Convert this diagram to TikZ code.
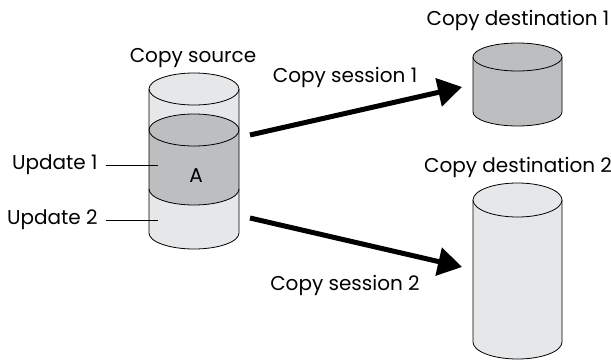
\documentclass[tikz,border=0pt]{standalone}
\usepackage{fontspec}
\setmainfont{Poppins}
\usetikzlibrary{arrows.meta}
\definecolor{datagray}{HTML}{BDBEC0}
\definecolor{shellgray}{HTML}{E6E7E8}
\begin{document}
\begin{tikzpicture}[x=1pt,y=1pt,line width=0.8pt,
  every node/.style={font=\fontsize{20}{24}\selectfont,inner sep=0pt},
  session/.style={line width=5pt,-{Triangle[length=24pt,width=28pt]}},
  leader/.style={line width=0.9pt,shorten <=8pt}]
\useasboundingbox (0,0) rectangle (611,360);
% source volume: shell, data band, outlines
\fill[shellgray] (149,271) -- (149,127) arc[start angle=180,end angle=360,x radius=45,y radius=16] -- (239,271) -- cycle;
\fill[datagray] (149,230) -- (149,171) arc[start angle=180,end angle=360,x radius=45,y radius=16]
  -- (239,230) arc[start angle=0,end angle=180,x radius=45,y radius=16] -- cycle;
\filldraw[fill=shellgray] (194,271) ellipse[x radius=45,y radius=16];
\draw (149,271) -- (149,127) arc[start angle=180,end angle=360,x radius=45,y radius=16] -- (239,271);
\draw (194,230) ellipse[x radius=45,y radius=16];
\draw (149,171) arc[start angle=180,end angle=360,x radius=45,y radius=16];
\node[anchor=base] (dataA) at (196,178) {A};
% destination 1
\filldraw[fill=datagray] (473,303) -- (473,248) arc[start angle=180,end angle=360,x radius=44.5,y radius=14] -- (562,303);
\filldraw[fill=datagray] (517.5,303) ellipse[x radius=44.5,y radius=14];
% destination 2
\filldraw[fill=shellgray] (473,160) -- (473,18) arc[start angle=180,end angle=360,x radius=44.5,y radius=17] -- (562,160);
\filldraw[fill=shellgray] (517.5,160) ellipse[x radius=44.5,y radius=17];
% titles
\node[anchor=base] (srcname) at (193,298) {Copy source};
\node[anchor=base] (dst1name) at (518,335) {Copy destination 1};
\node[anchor=base] (dst2name) at (518,188) {Copy destination 2};
% update leaders
\node[anchor=east] (upd1) at (98,195) {Update 1};
\node[anchor=east] (upd2) at (98,140) {Update 2};
\coordinate (upd1end) at (158,195);
\coordinate (upd2end) at (158,140);
\draw[leader] (upd1) -- (upd1end);
\draw[leader] (upd2) -- (upd2end);
% copy sessions
\coordinate (src1) at (250,225);
\coordinate (dst1) at (462,273);
\coordinate (src2) at (250,142);
\coordinate (dst2) at (462,93);
\draw[session] (src1) -- (dst1);
\draw[session] (src2) -- (dst2);
\node[anchor=base] (sess1) at (345,278) {Copy session 1};
\node[anchor=base] (sess2) at (345,70) {Copy session 2};
\end{tikzpicture}
\end{document}
